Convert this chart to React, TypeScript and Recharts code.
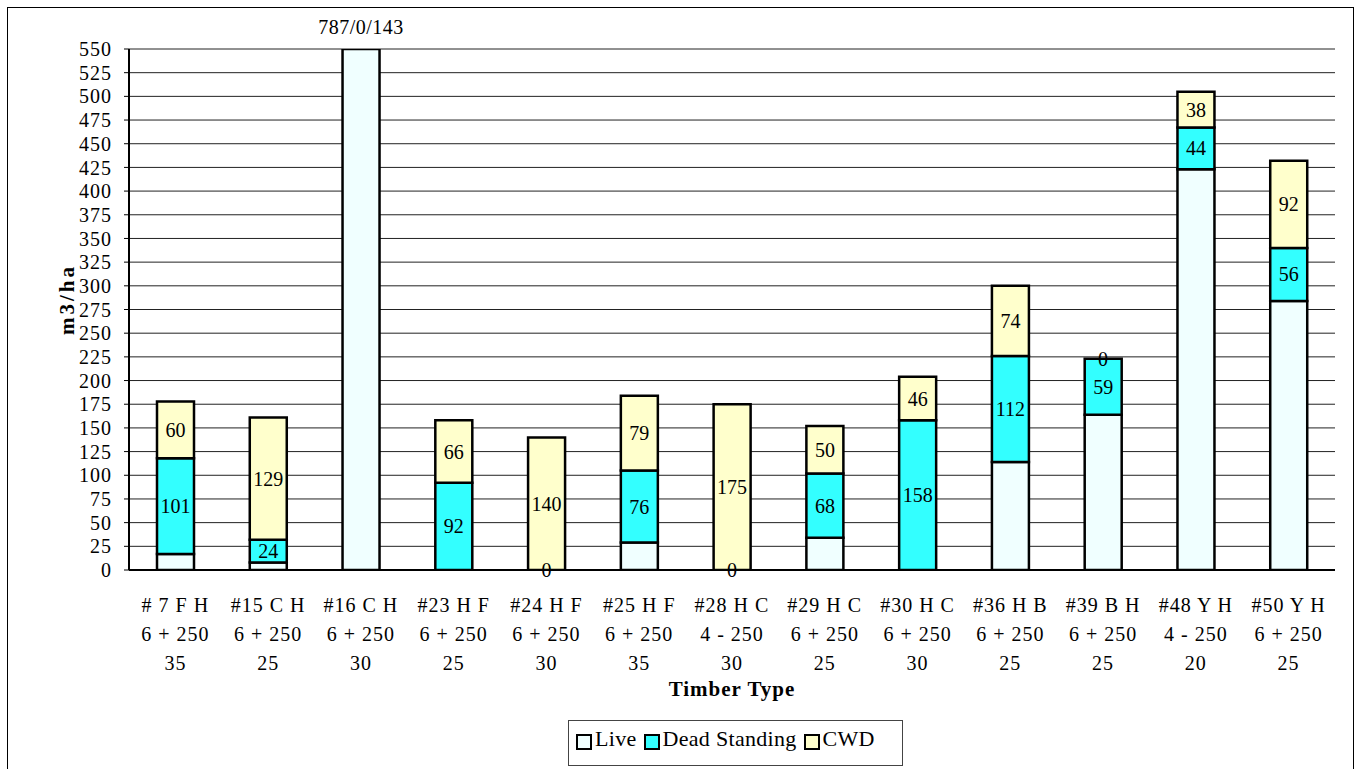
import { Bar, BarChart, CartesianGrid, LabelList, Legend, ReferenceDot, XAxis, YAxis } from 'recharts';

const SITES = ['# 7 F H', '#15 C H', '#16 C H', '#23 H F', '#24 H F', '#25 H F', '#28 H C', '#29 H C', '#30 H C', '#36 H B', '#39 B H', '#48 Y H', '#50 Y H'];
const CLASSES = ['6 + 250', '6 + 250', '6 + 250', '6 + 250', '6 + 250', '6 + 250', '4 - 250', '6 + 250', '6 + 250', '6 + 250', '6 + 250', '4 - 250', '6 + 250'];
const AGES = ['35', '25', '30', '25', '30', '35', '30', '25', '30', '25', '25', '20', '25'];

const LIVE = [17, 8, 787, 0, 0, 29, 0, 34, 0, 114, 164, 423, 284];
const DEAD = [101, 24, 0, 92, 0, 76, 0, 68, 158, 112, 59, 44, 56];
const CWD = [60, 129, 143, 66, 140, 79, 175, 50, 46, 74, 0, 38, 92];
const TOP_NOTES = ['', '', '787/0/143', '', '', '', '', '', '', '', '', '', ''];

const Y_MAX = 550;
const Y_TICKS = [0, 25, 50, 75, 100, 125, 150, 175, 200, 225, 250, 275, 300, 325, 350, 375, 400, 425, 450, 475, 500, 525, 550];
const EDGE_TICKS = [0, 1, 2, 3, 4, 5, 6, 7, 8, 9, 10, 11, 12, 13];

const LIVE_COLOR = '#F0FFFF';
const DEAD_COLOR = '#33FFFF';
const CWD_COLOR = '#FFFFCC';
const FONT = '"Liberation Serif", "Times New Roman", serif';

const LEGEND_H = 46;
const MARGIN = { top: 41, right: 18, bottom: 198 - 61 - LEGEND_H, left: 0 };

const data = SITES.map((site, i) => ({
  idx: i,
  site,
  cls: CLASSES[i],
  age: AGES[i],
  live: LIVE[i],
  dead: DEAD[i],
  cwd: CWD[i],
  note: TOP_NOTES[i],
}));

// zero-height segments get no rectangle, so their "0" labels are placed as reference dots
const zeroMarks = [
  ...DEAD.map((v, i) => ({ i, v, base: LIVE[i] })),
  ...CWD.map((v, i) => ({ i, v, base: LIVE[i] + DEAD[i] })),
].filter((m) => m.v === 0 && m.base < Y_MAX);

function SegmentLabel(props: any) {
  const { x, y, width, height, value } = props;
  const cy = y + height / 2;
  if (cy < MARGIN.top) return null;
  return (
    <text x={x + width / 2} y={cy} dy={7} textAnchor="middle" fontFamily={FONT} fontSize={20} fill="#000">
      {value}
    </text>
  );
}

function ZeroLabel(props: any) {
  const { viewBox } = props;
  return (
    <text x={viewBox.cx ?? viewBox.x} y={viewBox.cy ?? viewBox.y} dy={7} textAnchor="middle" fontFamily={FONT} fontSize={20} fill="#000">
      0
    </text>
  );
}

function NoteLabel(props: any) {
  const { x, width, value } = props;
  if (!value) return null;
  return (
    <text x={x + width / 2} y={MARGIN.top - 21} dy={6} textAnchor="middle" fontFamily={FONT} fontSize={20} letterSpacing={0.5} fill="#000">
      {value}
    </text>
  );
}

function SiteTick(props: any) {
  const { x, y, payload } = props;
  const row = data[payload.index];
  const lines = [row.site, row.cls, row.age];
  return (
    <g>
      {lines.map((t, k) => (
        <text key={k} x={x} y={y + 34 + k * 29} textAnchor="middle" fontFamily={FONT} fontSize={20} letterSpacing={1} fill="#000">
          {t}
        </text>
      ))}
    </g>
  );
}

function LegendBox() {
  const items = [
    { name: 'Live', color: LIVE_COLOR },
    { name: 'Dead Standing', color: DEAD_COLOR },
    { name: 'CWD', color: CWD_COLOR },
  ];
  return (
    <div
      style={{
        border: '1px solid #444',
        width: 335,
        height: LEGEND_H,
        boxSizing: 'border-box',
        display: 'flex',
        alignItems: 'flex-start',
        paddingTop: 5,
        paddingLeft: 7,
        fontFamily: FONT,
        fontSize: 22,
        letterSpacing: 0.3,
        background: '#fff',
      }}
    >
      {items.map((it) => (
        <span key={it.name} style={{ display: 'flex', alignItems: 'center', marginRight: 7 }}>
          <span
            style={{
              display: 'inline-block',
              width: 12,
              height: 12,
              border: '2px solid #000',
              background: it.color,
              marginRight: 3,
              marginTop: 5,
            }}
          />
          {it.name}
        </span>
      ))}
    </div>
  );
}

export default function App() {
  return (
    <div style={{ position: 'absolute', left: 0, top: 0, width: 1358, height: 769, overflow: 'hidden', background: '#fff' }}>
      <div style={{ position: 'absolute', left: 7, top: 7, width: 1345, height: 780, border: '1px solid #000' }}>
        <BarChart width={1345} height={760} data={data} margin={MARGIN} barSize={37}>
          <CartesianGrid vertical={false} stroke="#222" strokeWidth={1} />
          <XAxis
            xAxisId="cat"
            dataKey="idx"
            tick={<SiteTick />}
            tickLine={false}
            axisLine={{ stroke: '#000', strokeWidth: 2 }}
            interval={0}
            height={60}
            label={{ value: 'Timber Type', position: 'insideBottom', offset: -66, fontFamily: FONT, fontSize: 21, letterSpacing: 1, fontWeight: 'bold', fill: '#000' }}
          />
          <XAxis
            xAxisId="edge"
            type="number"
            domain={[0, 13]}
            ticks={EDGE_TICKS}
            tick={false}
            tickSize={6}
            tickLine={{ stroke: '#000', strokeWidth: 1.5 }}
            axisLine={false}
            height={1}
          />
          <YAxis
            domain={[0, Y_MAX]}
            ticks={Y_TICKS}
            allowDataOverflow
            interval={0}
            width={121}
            tickSize={5}
            tickMargin={12}
            tickLine={{ stroke: '#000' }}
            axisLine={{ stroke: '#000', strokeWidth: 2 }}
            tick={{ fontFamily: FONT, fontSize: 20, letterSpacing: 1, fill: '#000' }}
            label={{ value: 'm3/ha', angle: -90, position: 'center', dx: -2, dy: -10, fontFamily: FONT, fontSize: 21, letterSpacing: 3, fontWeight: 'bold', fill: '#000' }}
          />
          <YAxis
            yAxisId="frame"
            orientation="right"
            domain={[0, Y_MAX]}
            allowDataOverflow
            width={0}
            tick={false}
            tickLine={false}
            axisLine={{ stroke: '#888', strokeWidth: 2 }}
          />
          <Legend
            verticalAlign="bottom"
            content={<LegendBox />}
            wrapperStyle={{ position: 'absolute', left: 560, top: 712, width: 335, height: LEGEND_H }}
          />
          <Bar xAxisId="cat" dataKey="live" name="Live" stackId="s" fill={LIVE_COLOR} stroke="#000" strokeWidth={2.5} isAnimationActive={false}>
            <LabelList dataKey="note" content={<NoteLabel />} />
          </Bar>
          <Bar xAxisId="cat" dataKey="dead" name="Dead Standing" stackId="s" fill={DEAD_COLOR} stroke="#000" strokeWidth={2.5} isAnimationActive={false}>
            <LabelList dataKey="dead" content={<SegmentLabel />} />
          </Bar>
          <Bar xAxisId="cat" dataKey="cwd" name="CWD" stackId="s" fill={CWD_COLOR} stroke="#000" strokeWidth={2.5} isAnimationActive={false}>
            <LabelList dataKey="cwd" content={<SegmentLabel />} />
          </Bar>
          {zeroMarks.map((m) => (
            <ReferenceDot
              key={`${m.i}-${m.base}`}
              xAxisId="cat"
              x={m.i}
              y={m.base}
              r={0}
              fill="none"
              stroke="none"
              ifOverflow="visible"
              label={<ZeroLabel />}
            />
          ))}
        </BarChart>
      </div>
    </div>
  );
}
